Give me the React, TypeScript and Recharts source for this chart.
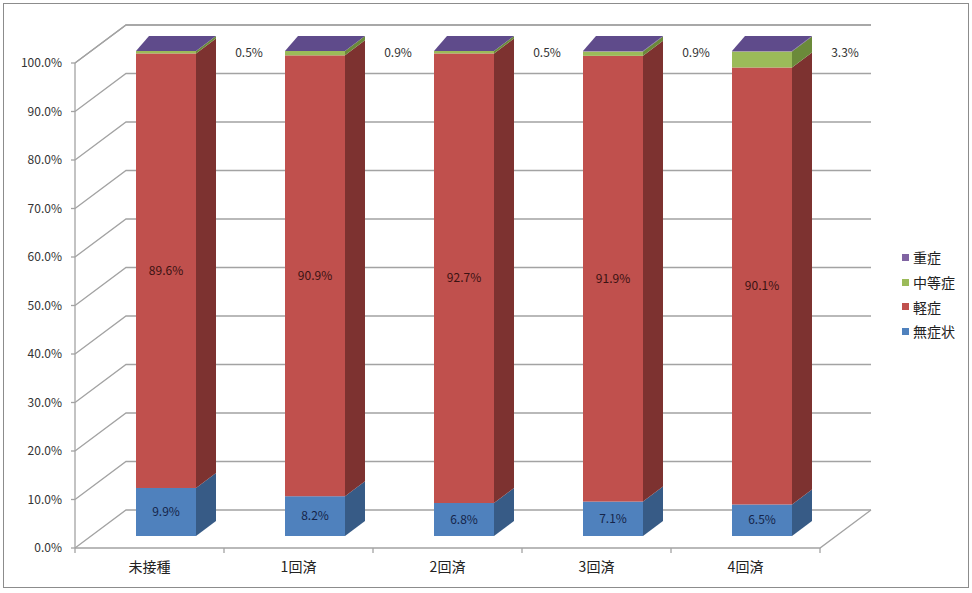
import React from "react";
import { BarChart, Bar, XAxis, YAxis, CartesianGrid, LabelList, Legend } from "recharts";

const categories = ["未接種", "1回済", "2回済", "3回済", "4回済"];
const asymptomatic = [9.9, 8.2, 6.8, 7.1, 6.5];
const mild = [89.6, 90.9, 92.7, 91.9, 90.1];
const moderate = [0.5, 0.9, 0.5, 0.9, 3.3];
const severe = [0.0, 0.0, 0.0, 0.1, 0.1];
const yTicks = [0, 10, 20, 30, 40, 50, 60, 70, 80, 90, 100];
const legendOrder = ["重症", "中等症", "軽症", "無症状"];

const data = categories.map((name, i) => ({
  name,
  asymptomatic: asymptomatic[i],
  mild: mild[i],
  moderate: moderate[i],
  severe: severe[i],
}));

const W = 972;
const H = 593;
const Y_AXIS_W = 60;
const X_AXIS_H = 30;
// plot area = bar front plane: x 91..836, y 51..536
const PLOT = { left: 91, right: 836, top: 51, bottom: 536 };
const MARGIN = {
  top: PLOT.top,
  right: W - PLOT.right,
  bottom: H - PLOT.bottom - X_AXIS_H,
  left: PLOT.left - Y_AXIS_W,
};
// offsets of the other planes, measured from the bar front faces
const FRONT = { dx: -16, dy: 12 };
const BACK = { dx: 35, dy: -26 };
const DEPTH = { dx: 20, dy: -15 };
const BAND = (PLOT.right - PLOT.left) / categories.length;
const AXIS_X = PLOT.left + FRONT.dx;
const FLOOR_Y = PLOT.bottom + FRONT.dy;
const GRID = "#a3a3a3";
const FONT = "'Noto Sans CJK JP', 'Liberation Sans', sans-serif";

const gridLine = (p: any) => {
  const { x1, x2, y1 } = p;
  const fx = x1 + FRONT.dx;
  const fy = y1 + FRONT.dy;
  const bx1 = x1 + BACK.dx;
  const bx2 = x2 + BACK.dx;
  const by = y1 + BACK.dy;
  const isFloor = Math.abs(y1 - PLOT.bottom) < 1;
  return (
    <g key={p.key}>
      <polyline points={`${fx},${fy} ${bx1},${by} ${bx2},${by}`} fill="none" stroke={GRID} strokeWidth={1.3} />
      {isFloor && (
        <>
          <polyline
            points={`${fx},${fy} ${x2 + FRONT.dx},${fy} ${bx2},${by}`}
            fill="none"
            stroke={GRID}
            strokeWidth={1.3}
          />
          <line x1={fx} y1={fy} x2={fx} y2={PLOT.top + FRONT.dy} stroke={GRID} strokeWidth={1.3} />
        </>
      )}
    </g>
  );
};

const YTick = ({ y, payload }: any) => (
  <g>
    <line x1={AXIS_X - 4} y1={y + FRONT.dy} x2={AXIS_X} y2={y + FRONT.dy} stroke={GRID} strokeWidth={1.3} />
    <text x={AXIS_X - 13} y={y + FRONT.dy + 4} textAnchor="end" fontSize={12} fill="#333" fontFamily={FONT}>
      {Number(payload.value).toFixed(1)}%
    </text>
  </g>
);

const XTick = ({ x, payload, index }: any) => {
  const cx = x + FRONT.dx;
  return (
    <g>
      <line x1={cx - BAND / 2} y1={FLOOR_Y} x2={cx - BAND / 2} y2={FLOOR_Y + 5} stroke={GRID} strokeWidth={1.3} />
      {index === categories.length - 1 && (
        <line x1={cx + BAND / 2} y1={FLOOR_Y} x2={cx + BAND / 2} y2={FLOOR_Y + 5} stroke={GRID} strokeWidth={1.3} />
      )}
      <text x={cx} y={FLOOR_Y + 24} textAnchor="middle" fontSize={14} fill="#222" fontFamily={FONT}>
        {payload.value}
      </text>
    </g>
  );
};

const makeShape = (front: string, side: string, top?: string) => (props: any) => {
  const { x, y, width, height } = props;
  if (x == null || y == null) return <g />;
  const h = Math.max(height || 0, 0);
  const r = x + width;
  return (
    <g>
      <rect x={x} y={y} width={width} height={h} fill={front} />
      <polygon
        points={`${r},${y + h} ${r},${y} ${r + DEPTH.dx},${y + DEPTH.dy} ${r + DEPTH.dx},${y + h + DEPTH.dy}`}
        fill={side}
      />
      {top && (
        <polygon
          points={`${x},${y} ${x + 13},${y + DEPTH.dy} ${r + DEPTH.dx},${y + DEPTH.dy} ${r},${y}`}
          fill={top}
        />
      )}
    </g>
  );
};

const pct = (v: any) => `${Number(v).toFixed(1)}%`;

const sideLabel = (p: any) => {
  const { x, y, width, value } = p;
  return (
    <text x={x + width / 2 + 83} y={y + 6} textAnchor="middle" fontSize={12} fill="#333" fontFamily={FONT}>
      {pct(value)}
    </text>
  );
};

const LegendBox = ({ payload }: any) => {
  const items = [...(payload || [])].sort(
    (a: any, b: any) => legendOrder.indexOf(a.value) - legendOrder.indexOf(b.value)
  );
  return (
    <div style={{ fontFamily: FONT, fontSize: 14, color: "#222", whiteSpace: "nowrap", width: 70 }}>
      {items.map((it: any) => (
        <div key={it.value} style={{ height: 24.7, display: "flex", alignItems: "center" }}>
          <span
            style={{
              flex: "0 0 7px",
              width: 7,
              height: 7,
              background: it.color,
              marginRight: 4,
              display: "inline-block",
            }}
          />
          {it.value}
        </div>
      ))}
    </div>
  );
};

export default function App() {
  return (
    <div style={{ position: "absolute", left: 0, top: 0, width: W, height: H, background: "#fff" }}>
      <div
        style={{
          position: "absolute",
          left: 3,
          top: 3,
          width: 966,
          height: 585,
          border: "1px solid #8c8c8c",
          boxSizing: "border-box",
        }}
      />
      <BarChart width={W} height={H} data={data} margin={MARGIN} barSize={60}>
        <CartesianGrid vertical={false} horizontal={gridLine} />
        <XAxis
          dataKey="name"
          height={X_AXIS_H}
          axisLine={false}
          tickLine={false}
          tick={<XTick />}
          interval={0}
        />
        <YAxis
          width={Y_AXIS_W}
          domain={[0, 100]}
          ticks={yTicks}
          axisLine={false}
          tickLine={false}
          tick={<YTick />}
          interval={0}
        />
        <Legend
          layout="vertical"
          verticalAlign="middle"
          align="right"
          wrapperStyle={{ left: 902, top: 245, width: 0 }}
          content={<LegendBox />}
        />
        <Bar
          dataKey="asymptomatic"
          name="無症状"
          stackId="a"
          fill="#4f81bd"
          shape={makeShape("#4f81bd", "#375b86")}
          isAnimationActive={false}
        >
          <LabelList dataKey="asymptomatic" position="center" formatter={pct} fontSize={12} fill="#15254a" fontFamily={FONT} />
        </Bar>
        <Bar
          dataKey="mild"
          name="軽症"
          stackId="a"
          fill="#c0504d"
          shape={makeShape("#c0504d", "#7d3230")}
          isAnimationActive={false}
        >
          <LabelList dataKey="mild" position="center" formatter={pct} fontSize={12} fill="#3a1212" fontFamily={FONT} />
        </Bar>
        <Bar
          dataKey="moderate"
          name="中等症"
          stackId="a"
          fill="#9bbb59"
          shape={makeShape("#9bbb59", "#6b8a3a")}
          isAnimationActive={false}
        >
          <LabelList dataKey="moderate" content={sideLabel} />
        </Bar>
        <Bar
          dataKey="severe"
          name="重症"
          stackId="a"
          fill="#8064a2"
          shape={makeShape("#8064a2", "#5d4a86", "#5f4b8b")}
          isAnimationActive={false}
        />
      </BarChart>
    </div>
  );
}
